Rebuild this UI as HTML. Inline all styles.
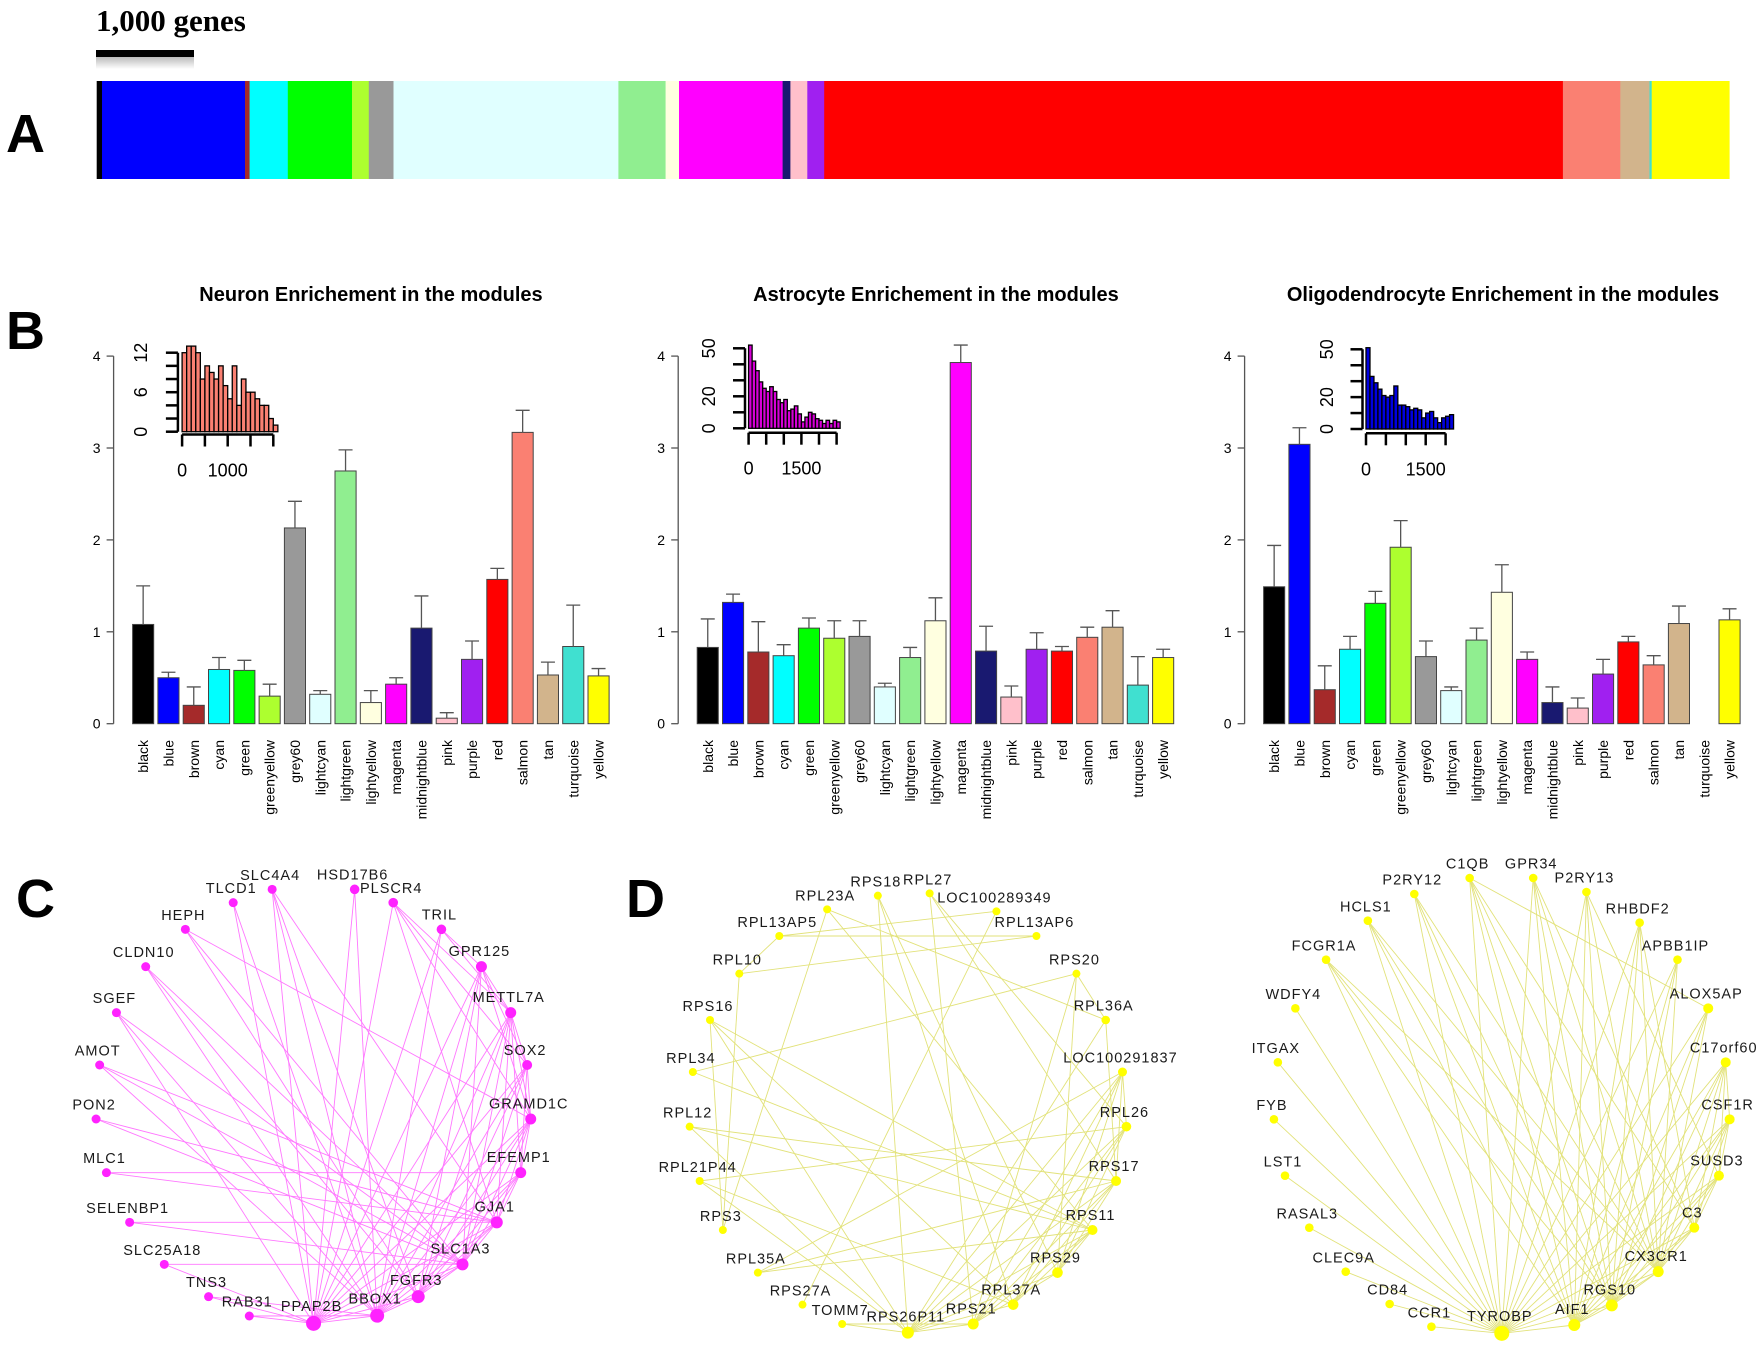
<!DOCTYPE html>
<html><head><meta charset="utf-8">
<style>
html,body{margin:0;padding:0;background:#fff;}
svg{display:block;font-family:"Liberation Sans",Arial,sans-serif;}
</style></head>
<body>
<svg id="fig" width="1763" height="1350" viewBox="0 0 1763 1350" xmlns="http://www.w3.org/2000/svg">
<defs><linearGradient id="shad" x1="0" y1="0" x2="0" y2="1"><stop offset="0" stop-color="#bbb"/><stop offset="1" stop-color="#fff"/></linearGradient></defs>
<text x="96" y="31" font-family="Liberation Serif,serif" font-weight="bold" font-size="31">1,000 genes</text>
<rect x="96" y="57" width="98" height="12" fill="url(#shad)"/>
<rect x="96" y="50" width="98" height="7" fill="#000"/>
<text x="6" y="152" font-weight="bold" font-size="54">A</text>
<text x="6" y="349" font-weight="bold" font-size="54">B</text>
<text x="16" y="917" font-weight="bold" font-size="54">C</text>
<text x="626" y="917" font-weight="bold" font-size="54">D</text>
<g id="gA"></g>
<g id="gB"></g>
<g id="gC"></g>
<g id="gD"></g>
</svg>
<script>
const NS="http://www.w3.org/2000/svg";
function mk(tag,attrs,parent){const e=document.createElementNS(NS,tag);for(const k in attrs)e.setAttribute(k,attrs[k]);if(parent)parent.appendChild(e);return e;}

// ---------- Panel A ----------
const segColors=["#000000","#0000ff","#a52a2a","#00ffff","#00ff00","#adff2f","#999999","#e0ffff","#90ee90","#ffffe0","#ff00ff","#191970","#ffc0cb","#a020f0","#ff0000","#fa8072","#d2b48c","#40e0d0","#ffff00"];
const segEnds=[102,245,249.6,287.8,352,368.8,393.5,618.4,665.6,679,782.6,790.4,807.3,824.2,1562.9,1620.3,1649.5,1651.7,1729.3];
const gA=document.getElementById("gA");
let sx=96.7;
segEnds.forEach((e,i)=>{
  const r=mk("rect",{x:sx,y:81,width:e-sx+0.3,height:98,fill:segColors[i]},gA);
  
  
  sx=e;
});

// ---------- Panel B ----------
const categories=["black","blue","brown","cyan","green","greenyellow","grey60","lightcyan","lightgreen","lightyellow","magenta","midnightblue","pink","purple","red","salmon","tan","turquoise","yellow"];
const barColors=["#000000","#0000ff","#a52a2a","#00ffff","#00ff00","#adff2f","#999999","#e0ffff","#90ee90","#ffffe0","#ff00ff","#191970","#ffc0cb","#a020f0","#ff0000","#fa8072","#d2b48c","#40e0d0","#ffff00"];
const neuronVals=[1.08,0.50,0.20,0.59,0.58,0.30,2.13,0.32,2.75,0.23,0.43,1.04,0.06,0.70,1.57,3.17,0.53,0.84,0.52];
const neuronErr=[1.50,0.56,0.40,0.72,0.69,0.43,2.42,0.36,2.98,0.36,0.50,1.39,0.12,0.90,1.69,3.41,0.67,1.29,0.60];
const astroVals=[0.83,1.32,0.78,0.74,1.04,0.93,0.95,0.40,0.72,1.12,3.93,0.79,0.29,0.81,0.79,0.94,1.05,0.42,0.72];
const astroErr=[1.14,1.41,1.11,0.86,1.15,1.12,1.12,0.44,0.83,1.37,4.12,1.06,0.41,0.99,0.84,1.05,1.23,0.73,0.81];
const oligoVals=[1.49,3.04,0.37,0.81,1.31,1.92,0.73,0.36,0.91,1.43,0.70,0.23,0.17,0.54,0.89,0.64,1.09,0.0,1.13];
const oligoErr=[1.94,3.22,0.63,0.95,1.44,2.21,0.90,0.40,1.04,1.73,0.78,0.40,0.28,0.70,0.95,0.74,1.28,0.0,1.25];
const yTicks=[0,1,2,3,4];
const titles=["Neuron Enrichement in the modules","Astrocyte Enrichement in the modules","Oligodendrocyte Enrichement in the modules"];
const neuronHist=[12,13,13,12,8,10,9,8,10,7,5,10,4,8,6,6,5,4,4,2,1];
const astroHist=[52,42,36,29,25,23,26,23,18,16,18,11,12,14,9,4,7,10,9,6,5,3,5,3,5,4];
const oligoHist=[51,33,29,25,21,20,21,27,15,15,14,12,13,12,7,10,11,7,4,7,8,9];
const neuronHistYTicks=[0,2,4,6,8,10,12], neuronHistYLabels=["0","6","12"];
const glialHistYTicks=[0,10,20,30,40,50], glialHistYLabels=["0","20","50"];

const panels=[
 {name:"neuron",ax:113.6,title:371,vals:neuronVals,err:neuronErr,
  hist:{data:neuronHist,fill:"#fa8072",ax:177.9,x0:182.1,pxPer500:22.8,y0:431.7,ytop:352.7,ymax:12,yticks:neuronHistYTicks,ylabels:neuronHistYLabels,xmaxTick:2000,xlabels:["0","1000"],ylabx:147,xaxisY:434.5}},
 {name:"astrocyte",ax:678.2,title:936,vals:astroVals,err:astroErr,
  hist:{data:astroHist,fill:"#d800d8",ax:745,x0:748.6,pxPer500:17.6,y0:428.3,ytop:348.3,ymax:50,yticks:glialHistYTicks,ylabels:glialHistYLabels,xmaxTick:2500,xlabels:["0","1500"],ylabx:715,xaxisY:432.7}},
 {name:"oligodendrocyte",ax:1244.6,title:1503,vals:oligoVals,err:oligoErr,
  hist:{data:oligoHist,fill:"#0000e0",ax:1362.5,x0:1366,pxPer500:19.9,y0:429,ytop:349.3,ymax:50,yticks:glialHistYTicks,ylabels:glialHistYLabels,xmaxTick:2000,xlabels:["0","1500"],ylabx:1333,xaxisY:433.3}}
];
const gB=document.getElementById("gB");
const Y0=723.7, UNIT=91.9, BW=21.1, PITCH=25.3;
function yS(v){return Y0-v*UNIT;}
panels.forEach(p=>{
  const g=mk("g",{},gB);
  
  
  const t=mk("text",{x:p.title,y:301,"text-anchor":"middle","font-weight":"bold","font-size":"20"},g);
  t.textContent=titles[panels.indexOf(p)];
  
  
  const ax=mk("line",{x1:p.ax,y1:yS(0),x2:p.ax,y2:yS(4),stroke:"#555","stroke-width":1.3},g);
  
  
  yTicks.forEach(v=>{
    mk("line",{x1:p.ax-7,y1:yS(v),x2:p.ax,y2:yS(v),stroke:"#555","stroke-width":1.3},g);
    const tl=mk("text",{x:p.ax-17,y:yS(v)+5,"text-anchor":"middle","font-size":"14"},g);
    tl.textContent=v;
    
    
  });
  categories.forEach((c,i)=>{
    const x=p.ax+19+i*PITCH, v=p.vals[i], e=p.err[i];
    const b=mk("rect",{x:x,y:yS(v),width:BW,height:v*UNIT,fill:barColors[i],stroke:"#444","stroke-width":1},g);
    
    
    if(e>v){
      const cx=x+BW/2;
      const el=mk("path",{d:`M${cx},${yS(v)}V${yS(e)}M${cx-7},${yS(e)}H${cx+7}`,stroke:"#555","stroke-width":1.3,fill:"none"},g);
      
      
    }
    const lx=x+BW/2+5;
    const lab=mk("text",{x:lx,y:740,"text-anchor":"end","font-size":"14",transform:`rotate(-90 ${lx} 740)`},g);
    lab.textContent=c;
    
    
  });
  const h=p.hist, hg=mk("g",{},g);
  
  
  const bw=h.pxPer500/5;
  const hy=v=>h.y0-(v/h.ymax)*(h.y0-h.ytop);
  h.data.forEach((v,i)=>{
    const r=mk("rect",{x:h.x0+i*bw,y:hy(v),width:bw,height:h.y0-hy(v),fill:h.fill,stroke:"#000","stroke-width":1.3},hg);
    
    
  });
  mk("line",{x1:h.ax,y1:hy(0),x2:h.ax,y2:hy(h.ymax),stroke:"#000","stroke-width":2.5},hg);
  h.yticks.forEach(v=>mk("line",{x1:h.ax-12,y1:hy(v),x2:h.ax,y2:hy(v),stroke:"#000","stroke-width":2.5},hg));
  h.ylabels.forEach(s=>{
    const yy=hy(+s);
    const tl=mk("text",{x:h.ylabx,y:yy,"text-anchor":"middle","font-size":"18",transform:`rotate(-90 ${h.ylabx} ${yy})`},hg);
    tl.textContent=s;
    
    
  });
  const hx=v=>h.x0+v/500*h.pxPer500;
  mk("line",{x1:hx(0),y1:h.xaxisY,x2:hx(h.xmaxTick),y2:h.xaxisY,stroke:"#000","stroke-width":2.5},hg);
  for(let v=0;v<=h.xmaxTick;v+=500) mk("line",{x1:hx(v),y1:h.xaxisY,x2:hx(v),y2:h.xaxisY+12,stroke:"#000","stroke-width":2.5},hg);
  h.xlabels.forEach(s=>{
    const tl=mk("text",{x:hx(+s),y:h.xaxisY+42,"text-anchor":"middle","font-size":"18"},hg);
    tl.textContent=s;
    
    
  });
});

// ---------- Networks ----------
function drawNet(parent,name,x0,nodes,edges,nodeColor,edgeColor){
  const g=mk("g",{},parent);
  
  
  const pos={};
  nodes.forEach(n=>{pos[n[0]]=[x0+n[1]/2.8,850+n[2]/3,n[3]];});
  edges.forEach(e=>{
    const a=pos[e[0]],b=pos[e[1]]; if(!a||!b)return;
    const l=mk("line",{x1:a[0],y1:a[1],x2:b[0],y2:b[1],stroke:edgeColor,"stroke-width":0.9},g);
    
    
  });
  nodes.forEach(n=>{
    const p=pos[n[0]];
    const c=mk("circle",{cx:p[0],cy:p[1],r:p[2],fill:nodeColor},g);
    
    
    const t=mk("text",{x:p[0]-2,y:p[1]-p[2]-5,"text-anchor":"middle","font-size":"14.5","letter-spacing":"1",fill:"#1a1a1a"},g);
    t.textContent=n[0];
    
    
  });
}
const cNodes=[["SLC4A4",594,118,4.5],["TLCD1",485,158,4.5],["HEPH",351,238,4.5],["CLDN10",240,350,4.5],["SGEF",158,488,4.5],["AMOT",111,645,4.5],["PON2",101,807,4.5],["MLC1",130,968,4.5],["SELENBP1",195,1117,4.5],["SLC25A18",292,1243,4.5],["TNS3",416,1340,4.5],["RAB31",530,1398,4.5],["PPAP2B",710,1420,7.5],["BBOX1",888,1397,7],["FGFR3",1003,1340,6.5],["SLC1A3",1127,1243,6],["GJA1",1223,1117,6],["EFEMP1",1290,968,5.5],["GRAMD1C",1318,807,5.5],["SOX2",1308,645,5],["METTL7A",1262,488,5.5],["GPR125",1180,350,5.5],["TRIL",1068,238,4.8],["PLSCR4",933,158,4.8],["HSD17B6",825,118,4.8]];
const cEdges=[["SLC4A4","PPAP2B"],["SLC4A4","BBOX1"],["SLC4A4","FGFR3"],["SLC4A4","GJA1"],["TLCD1","PPAP2B"],["TLCD1","BBOX1"],["HEPH","GRAMD1C"],["HEPH","SLC1A3"],["HEPH","FGFR3"],["CLDN10","BBOX1"],["CLDN10","FGFR3"],["CLDN10","SLC1A3"],["SGEF","PPAP2B"],["SGEF","BBOX1"],["SGEF","SLC1A3"],["AMOT","GJA1"],["AMOT","SLC1A3"],["AMOT","BBOX1"],["PON2","GJA1"],["PON2","SLC1A3"],["MLC1","GJA1"],["MLC1","EFEMP1"],["SELENBP1","GJA1"],["SELENBP1","SLC1A3"],["SLC25A18","SLC1A3"],["SLC25A18","PPAP2B"],["TNS3","BBOX1"],["TNS3","PPAP2B"],["RAB31","PPAP2B"],["RAB31","BBOX1"],["HSD17B6","PPAP2B"],["HSD17B6","BBOX1"],["PLSCR4","PPAP2B"],["PLSCR4","SOX2"],["PLSCR4","METTL7A"],["PLSCR4","GRAMD1C"],["PLSCR4","GJA1"],["TRIL","PPAP2B"],["TRIL","BBOX1"],["TRIL","GPR125"],["TRIL","METTL7A"],["GPR125","PPAP2B"],["GPR125","BBOX1"],["GPR125","FGFR3"],["GPR125","SLC1A3"],["GPR125","METTL7A"],["GPR125","SOX2"],["GPR125","GRAMD1C"],["METTL7A","PPAP2B"],["METTL7A","BBOX1"],["METTL7A","FGFR3"],["METTL7A","SLC1A3"],["METTL7A","GJA1"],["METTL7A","SOX2"],["METTL7A","GRAMD1C"],["METTL7A","EFEMP1"],["SOX2","PPAP2B"],["SOX2","BBOX1"],["SOX2","FGFR3"],["SOX2","SLC1A3"],["SOX2","GRAMD1C"],["SOX2","EFEMP1"],["GRAMD1C","PPAP2B"],["GRAMD1C","BBOX1"],["GRAMD1C","FGFR3"],["GRAMD1C","SLC1A3"],["GRAMD1C","GJA1"],["GRAMD1C","EFEMP1"],["EFEMP1","PPAP2B"],["EFEMP1","BBOX1"],["EFEMP1","FGFR3"],["EFEMP1","SLC1A3"],["EFEMP1","GJA1"],["GJA1","PPAP2B"],["GJA1","BBOX1"],["GJA1","FGFR3"],["GJA1","SLC1A3"],["SLC1A3","PPAP2B"],["SLC1A3","BBOX1"],["SLC1A3","FGFR3"],["FGFR3","PPAP2B"],["FGFR3","BBOX1"],["BBOX1","PPAP2B"]];
drawNet(document.getElementById("gC"),"astrocyte-network",60,cNodes,cEdges,"#ff22ff","#ff77ff");

const dNodes=[["RPS18",666,137,4],["RPL27",811,130,4],["RPL23A",524,178,4],["LOC100289349",998,184,4],["RPL13AP5",390,258,4],["RPL13AP6",1110,258,4],["RPL10",278,371,4],["RPS20",1222,371,4],["RPS16",196,510,4],["RPL36A",1304,510,4.3],["RPL34",148,666,4],["LOC100291837",1351,666,4.5],["RPL12",139,830,4],["RPL26",1362,830,4.8],["RPL21P44",167,993,4],["RPS17",1333,993,5],["RPS3",232,1140,4],["RPS11",1267,1140,5],["RPL35A",330,1268,4],["RPS29",1169,1268,5.3],["RPS27A",455,1364,4],["RPL37A",1045,1364,5.3],["TOMM7",566,1422,4],["RPS21",933,1422,5.5],["RPS26P11",750,1448,6]];
const dEdges=[["RPL13AP5","RPL13AP6"],["RPL13AP5","LOC100289349"],["RPL13AP5","RPL10"],["RPL10","RPL13AP6"],["RPL10","RPS3"],["RPL23A","RPS3"],["RPL23A","RPL36A"],["RPL23A","RPS11"],["RPS18","RPS26P11"],["RPS18","RPL37A"],["RPS18","RPS29"],["RPL27","RPS21"],["RPL27","RPL26"],["RPL27","RPS17"],["LOC100289349","RPS27A"],["RPS20","RPL34"],["RPS20","RPL36A"],["RPS20","RPS29"],["RPS20","RPS21"],["RPL36A","RPS17"],["RPL36A","RPS26P11"],["RPS16","RPS3"],["RPS16","RPS11"],["RPS16","RPL37A"],["RPS16","RPS26P11"],["RPL34","RPS11"],["RPL12","RPS17"],["RPL12","RPS11"],["RPL12","RPS26P11"],["RPL21P44","RPL26"],["RPL21P44","RPL37A"],["RPL21P44","RPS26P11"],["RPL35A","LOC100291837"],["RPL35A","RPS11"],["RPL35A","RPS17"],["LOC100291837","RPS26P11"],["LOC100291837","RPS21"],["LOC100291837","RPL37A"],["LOC100291837","RPS29"],["LOC100291837","RPS17"],["LOC100291837","RPL26"],["RPL26","RPS26P11"],["RPL26","RPS21"],["RPL26","RPL37A"],["RPL26","RPS29"],["RPS17","RPS26P11"],["RPS17","RPS21"],["RPS17","RPL37A"],["RPS17","RPS29"],["RPS11","RPS26P11"],["RPS11","RPS21"],["RPS11","RPL37A"],["RPS11","RPS29"],["RPS29","RPS26P11"],["RPS29","RPS21"],["RPL37A","RPS26P11"],["RPS21","RPS26P11"],["TOMM7","RPS26P11"],["TOMM7","RPS21"]];
drawNet(document.getElementById("gD"),"ribosomal-network",640,dNodes,dEdges,"#ffff00","#e2e27a");

const mNodes=[["C1QB",755,84,4.3],["GPR34",933,84,4.3],["P2RY12",600,132,4.3],["P2RY13",1082,126,4.3],["HCLS1",470,212,4.3],["RHBDF2",1231,218,4.3],["FCGR1A",353,329,4.3],["APBB1IP",1337,329,4.3],["WDFY4",267,475,4.3],["ALOX5AP",1423,475,5],["ITGAX",218,637,4.3],["C17orf60",1472,637,5],["FYB",207,808,4.3],["CSF1R",1483,808,5],["LST1",238,977,4.3],["SUSD3",1453,977,5],["RASAL3",306,1133,4.3],["C3",1384,1133,5],["CLEC9A",408,1265,4.3],["CX3CR1",1283,1265,5.5],["CD84",531,1362,4.3],["RGS10",1153,1366,6],["CCR1",648,1430,4.3],["AIF1",1048,1425,6],["TYROBP",845,1450,7.5]];
const mEdges=[];
mNodes.forEach(n=>{if(n[0]!=="TYROBP")mEdges.push([n[0],"TYROBP"]);});
["C1QB","GPR34","P2RY12","P2RY13","HCLS1","RHBDF2","FCGR1A","APBB1IP","ALOX5AP","C17orf60","CSF1R"].forEach(a=>{["AIF1","RGS10","CX3CR1"].forEach(b=>mEdges.push([a,b]));});
[["C1QB","ALOX5AP"],["C1QB","C3"],["GPR34","C3"],["P2RY13","SUSD3"],["RHBDF2","C3"],["C17orf60","SUSD3"],["C17orf60","C3"],["C17orf60","CSF1R"],["CSF1R","C3"],["CSF1R","SUSD3"],["SUSD3","C3"],["SUSD3","AIF1"],["SUSD3","RGS10"],["SUSD3","CX3CR1"],["C3","AIF1"],["C3","RGS10"],["C3","CX3CR1"],["CX3CR1","RGS10"],["CX3CR1","AIF1"],["RGS10","AIF1"]].forEach(e=>mEdges.push(e));
drawNet(document.getElementById("gD"),"microglia-network",1200,mNodes,mEdges,"#ffff00","#e2e27a");
</script>
</body></html>
